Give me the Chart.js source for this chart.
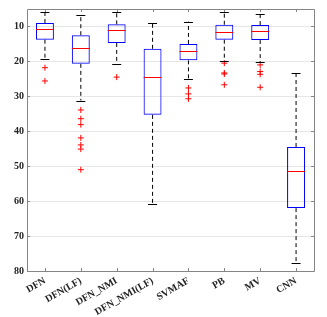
<!DOCTYPE html>
<html>
<head>
<meta charset="utf-8">
<script src="https://cdn.jsdelivr.net/npm/chart.js@4"></script>
<style>
  html, body { margin: 0; padding: 0; background: #fff; }
  #wrap { width: 327px; height: 317px; }
</style>
</head>
<body>
<div id="wrap"><canvas id="boxChart" width="327" height="317"></canvas></div>
<script>
// Box plot data
const categories = ['DFN', 'DFN(LF)', 'DFN_NMI', 'DFN_NMI(LF)', 'SVMAF', 'PB', 'MV', 'CNN'];
const whiskerTop = [6.0, 6.7, 5.8, 9.0, 8.6, 6.0, 6.3, 23.4];
const q1 = [9.0, 12.5, 9.4, 16.4, 15.0, 9.5, 9.6, 44.5];
const medians = [10.6, 16.3, 10.9, 24.6, 17.0, 11.6, 11.2, 51.5];
const q3 = [13.8, 20.7, 14.7, 35.3, 19.7, 13.8, 13.9, 62.0];
const whiskerBottom = [19.3, 31.2, 20.7, 60.7, 25.0, 19.8, 20.2, 77.7];
const outliers = [
  [21.8, 25.6],
  [33.9, 36.4, 38.1, 41.9, 43.9, 45.1, 51.0],
  [24.5],
  [],
  [27.6, 29.3, 30.7],
  [20.5, 23.3, 23.6, 26.7],
  [21.0, 22.9, 23.7, 27.4],
  []
];
const yTicks = [10, 20, 30, 40, 50, 60, 70, 80];

const outlierPoints = [];
outliers.forEach((list, i) => {
  list.forEach(v => outlierPoints.push({ x: categories[i], y: v }));
});

const AXIS = '#858585';

// whiskers, caps, medians
const boxParts = {
  id: 'boxParts',
  afterDatasetsDraw(chart) {
    const ctx = chart.ctx;
    const y = chart.scales.y;
    const bars = chart.getDatasetMeta(0).data;
    ctx.save();
    bars.forEach((bar, i) => {
      const cx = bar.x;
      const half = bar.width / 2;
      const cap = bar.width / 4;
      // dashed whiskers
      ctx.strokeStyle = '#000';
      ctx.lineWidth = 1;
      ctx.setLineDash([4, 3]);
      ctx.beginPath();
      ctx.moveTo(cx, y.getPixelForValue(q1[i]));
      ctx.lineTo(cx, y.getPixelForValue(whiskerTop[i]));
      ctx.moveTo(cx, y.getPixelForValue(q3[i]));
      ctx.lineTo(cx, y.getPixelForValue(whiskerBottom[i]));
      ctx.stroke();
      // caps
      ctx.setLineDash([]);
      ctx.beginPath();
      [whiskerTop[i], whiskerBottom[i]].forEach(v => {
        const py = Math.round(y.getPixelForValue(v)) + 0.5;
        ctx.moveTo(cx - cap, py);
        ctx.lineTo(cx + cap, py);
      });
      ctx.stroke();
      // median
      ctx.strokeStyle = '#ff0000';
      ctx.beginPath();
      const my = Math.round(y.getPixelForValue(medians[i])) + 0.5;
      ctx.moveTo(cx - half, my);
      ctx.lineTo(cx + half, my);
      ctx.stroke();
    });
    ctx.restore();
  },
  afterDraw(chart) {
    // frame and inward ticks, matlab style
    const ctx = chart.ctx;
    const a = chart.chartArea;
    const y = chart.scales.y;
    const x = chart.scales.x;
    ctx.save();
    ctx.strokeStyle = AXIS;
    ctx.lineWidth = 1;
    ctx.beginPath();
    ctx.rect(Math.round(a.left) + 0.5, Math.round(a.top) + 0.5,
      Math.round(a.right - a.left), Math.round(a.bottom - a.top));
    yTicks.forEach(v => {
      const py = Math.round(y.getPixelForValue(v)) + 0.5;
      ctx.moveTo(a.left, py); ctx.lineTo(a.left + 3, py);
      ctx.moveTo(a.right, py); ctx.lineTo(a.right - 3, py);
    });
    categories.forEach((c, i) => {
      const px = Math.round(x.getPixelForValue(i)) + 0.5;
      ctx.moveTo(px, a.bottom); ctx.lineTo(px, a.bottom - 3);
      ctx.moveTo(px, a.top); ctx.lineTo(px, a.top + 3);
    });
    ctx.stroke();
    ctx.restore();
  }
};

new Chart(document.getElementById('boxChart'), {
  type: 'bar',
  data: {
    labels: categories,
    datasets: [
      {
        label: 'box',
        data: categories.map((c, i) => [q1[i], q3[i]]),
        backgroundColor: 'rgba(255,255,255,0)',
        borderColor: '#0000ff',
        borderWidth: 1,
        borderSkipped: false,
        barPercentage: 0.5,
        categoryPercentage: 1
      },
      {
        type: 'scatter',
        label: 'outliers',
        data: outlierPoints,
        pointStyle: 'cross',
        radius: 3,
        borderColor: '#ff0000',
        backgroundColor: '#ff0000',
        borderWidth: 1
      }
    ]
  },
  options: {
    responsive: false,
    animation: false,
    layout: { padding: { top: 8, right: 13, left: 0, bottom: 0 } },
    plugins: { legend: { display: false }, tooltip: { enabled: false } },
    scales: {
      x: {
        type: 'category',
        offset: true,
        grid: { display: false, drawTicks: false },
        border: { display: false },
        afterFit(scale) { scale.height = 46; },
        ticks: {
          autoSkip: false,
          minRotation: 30,
          maxRotation: 30,
          padding: 4,
          color: '#222',
          font: { family: 'Liberation Serif', size: 10, weight: 'bold' }
        }
      },
      y: {
        reverse: true,
        min: 5,
        max: 80,
        afterBuildTicks(scale) { scale.ticks = yTicks.map(v => ({ value: v })); },
        afterFit(scale) { scale.width = 27; },
        grid: { color: '#e6e6e6', drawTicks: false },
        border: { display: false },
        ticks: {
          padding: 3,
          color: '#222',
          font: { family: 'Liberation Serif', size: 10, weight: 'bold' }
        }
      }
    }
  },
  plugins: [boxParts]
});
</script>
</body>
</html>
